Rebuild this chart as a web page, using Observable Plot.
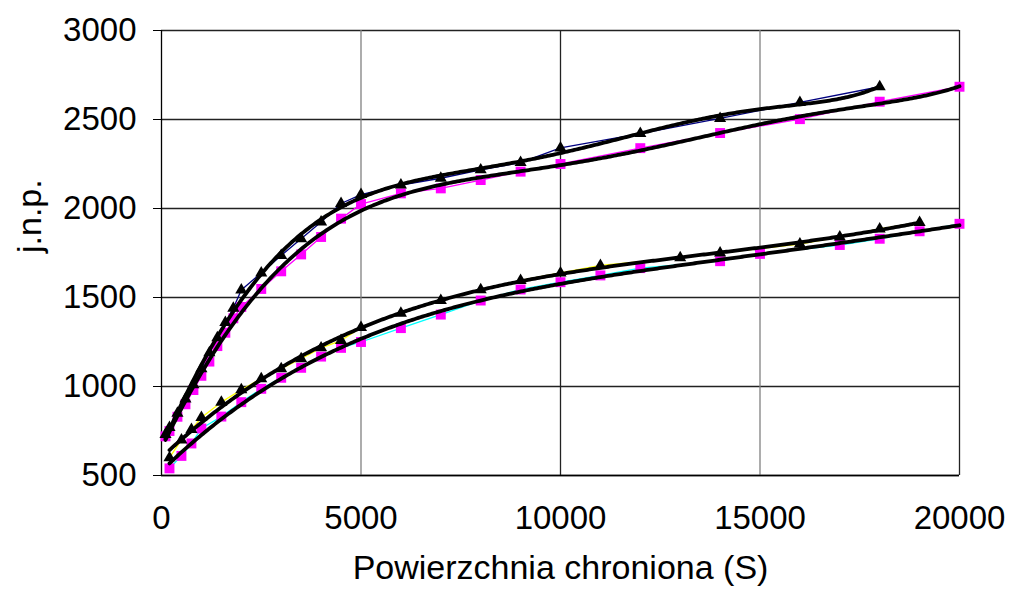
<!DOCTYPE html>
<html><head><meta charset="utf-8">
<script src="https://cdn.jsdelivr.net/npm/d3@7"></script>
<script src="https://cdn.jsdelivr.net/npm/@observablehq/plot@0.6"></script>
<style>body{margin:0;background:#fff;}</style>
</head><body><div id="chart"></div>
<script>
// Upper pair (triangles / squares)
const uTriX = [100,200,400,600,800,1000,1200,1400,1600,1800,2000,2500,3000,3500,4000,4500,5000,6000,7000,8000,9000,10000,12000,14000,16000,18000];
const uTriY = [730,770,850,930,1010,1100,1190,1274,1359,1440,1542,1638,1736,1830,1924,2028,2078,2132,2170,2217,2258,2340,2421,2506,2596,2684];
const uSqX = [100,200,400,600,800,1000,1200,1400,1600,1800,2000,2500,3000,3500,4000,4500,5000,6000,7000,8000,9000,10000,12000,14000,16000,18000,20000];
const uSqY = [720,750,830,900,980,1060,1140,1227,1302,1383,1447,1548,1647,1742,1840,1943,2025,2085,2113,2160,2207,2250,2339,2424,2502,2600,2684];
// Lower pair (triangles / squares)
const lTriX = [200,500,750,1000,1500,2000,2500,3000,3500,4000,4500,5000,6000,7000,8000,9000,10000,11000,13000,14000,16000,17000,18000,19000];
const lTriY = [600,700,758,826,912,982,1044,1100,1156,1217,1258,1331,1412,1483,1543,1596,1638,1680,1723,1750,1800,1840,1885,1922];
const lSqX = [200,500,750,1000,1500,2000,2500,3000,3500,4000,4500,5000,6000,7000,8000,9000,10000,11000,12000,14000,15000,17000,18000,19000,20000];
const lSqY = [540,610,680,764,831,912,987,1049,1105,1168,1217,1250,1328,1404,1483,1545,1586,1624,1665,1704,1745,1795,1830,1872,1914];

const xTicks = [0,5000,10000,15000,20000];
const yTicks = [500,1000,1500,2000,2500,3000];
const xTitle = "Powierzchnia chroniona (S)";
const yTitle = "j.n.p.";

const toRows = (xs, ys) => xs.map((x, i) => ({x, y: ys[i]}));

// Least-squares polynomial trendline (like a spreadsheet trendline)
function polyTrend(xs, ys, deg) {
  const S = 20000, n = deg + 1;
  const A = Array.from({length: n}, () => new Array(n).fill(0));
  const b = new Array(n).fill(0);
  xs.forEach((x, k) => {
    const t = x / S;
    for (let i = 0; i < n; i++) {
      b[i] += ys[k] * Math.pow(t, i);
      for (let j = 0; j < n; j++) A[i][j] += Math.pow(t, i + j);
    }
  });
  for (let c = 0; c < n; c++) {
    let p = c;
    for (let r = c + 1; r < n; r++) if (Math.abs(A[r][c]) > Math.abs(A[p][c])) p = r;
    [A[c], A[p]] = [A[p], A[c]]; [b[c], b[p]] = [b[p], b[c]];
    for (let r = c + 1; r < n; r++) {
      const f = A[r][c] / A[c][c];
      for (let j = c; j < n; j++) A[r][j] -= f * A[c][j];
      b[r] -= f * b[c];
    }
  }
  const coef = new Array(n).fill(0);
  for (let i = n - 1; i >= 0; i--) {
    let s = b[i];
    for (let j = i + 1; j < n; j++) s -= A[i][j] * coef[j];
    coef[i] = s / A[i][i];
  }
  const x0 = d3.min(xs), x1 = d3.max(xs);
  return d3.range(x0, x1 + 1, (x1 - x0) / 400).map(x => {
    const t = x / S;
    return {x, y: coef.reduce((s, c, i) => s + c * Math.pow(t, i), 0)};
  });
}

const uTri = toRows(uTriX, uTriY), uSq = toRows(uSqX, uSqY);
const lTri = toRows(lTriX, lTriY), lSq = toRows(lSqX, lSqY);

const chart = Plot.plot({
  width: 1010, height: 597,
  marginLeft: 161, marginRight: 51, marginTop: 30, marginBottom: 122,
  style: {fontFamily: "'Liberation Sans', Arial, sans-serif", fontSize: "33px", background: "#fff"},
  x: {domain: [0, 20000]},
  y: {domain: [500, 3000]},
  marks: [
    Plot.gridY(yTicks, {stroke: "#222", strokeOpacity: 1, strokeWidth: 1.3}),
    Plot.gridX([5000, 15000], {stroke: "#808080", strokeOpacity: 1, strokeWidth: 1.3}),
    Plot.gridX([10000, 20000], {stroke: "#222", strokeOpacity: 1, strokeWidth: 1.3}),
    Plot.ruleX([0], {stroke: "#000", strokeWidth: 1.3}),
    Plot.ruleY([500], {stroke: "#000", strokeWidth: 1.3}),
    Plot.axisY(yTicks, {tickSize: 8, tickPadding: 17, label: null, tickFormat: d => String(d), fontSize: 33}),
    Plot.axisX(xTicks, {tickSize: 0, tickPadding: 30, label: null, tickFormat: d => String(d), fontSize: 33}),
    Plot.line(uTri, {x: "x", y: "y", stroke: "#000080", strokeWidth: 1.3}),
    Plot.line(uSq, {x: "x", y: "y", stroke: "#ff00ff", strokeWidth: 1.3}),
    Plot.line(lTri, {x: "x", y: "y", stroke: "#ffff00", strokeWidth: 1.3}),
    Plot.line(lSq, {x: "x", y: "y", stroke: "#00ffff", strokeWidth: 1.3}),
    Plot.dot(uSq, {x: "x", y: "y", symbol: "square", r: 5.6, fill: "#ff00ff", stroke: "none"}),
    Plot.dot(lSq, {x: "x", y: "y", symbol: "square", r: 5.6, fill: "#ff00ff", stroke: "none"}),
    Plot.dot(uTri, {x: "x", y: "y", symbol: "triangle", r: 4.5, fill: "#000", stroke: "none"}),
    Plot.dot(lTri, {x: "x", y: "y", symbol: "triangle", r: 4.5, fill: "#000", stroke: "none"}),
    Plot.line(polyTrend(uTriX, uTriY, 6), {x: "x", y: "y", stroke: "#000", strokeWidth: 3.8}),
    Plot.line(polyTrend(uSqX, uSqY, 6), {x: "x", y: "y", stroke: "#000", strokeWidth: 3.8}),
    Plot.line(polyTrend(lTriX, lTriY, 4), {x: "x", y: "y", stroke: "#000", strokeWidth: 3.8}),
    Plot.line(polyTrend(lSqX, lSqY, 4), {x: "x", y: "y", stroke: "#000", strokeWidth: 3.8}),
    Plot.text([xTitle], {frameAnchor: "bottom", dy: 103, text: d => d, fontSize: 34, fill: "#000"}),
    Plot.text([yTitle], {frameAnchor: "left", dx: -131, rotate: -90, text: d => d, fontSize: 34, fill: "#000"})
  ]
});
document.getElementById("chart").appendChild(chart);
</script>
</body></html>
